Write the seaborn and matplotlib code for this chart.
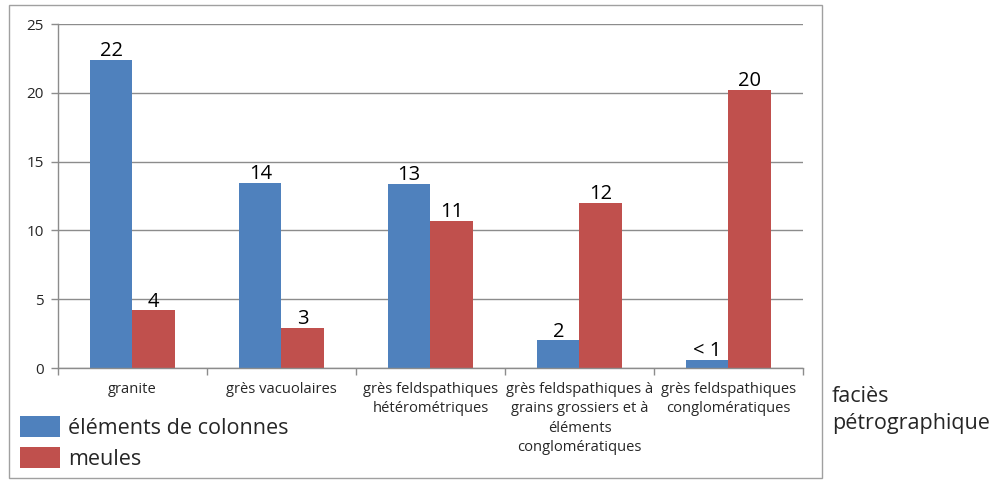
import matplotlib
matplotlib.use("Agg")
import matplotlib.pyplot as plt
import seaborn as sns
import pandas as pd
import numpy as np
from matplotlib.patches import Rectangle, Patch

categories = ["granite", "grès vacuolaires",
              "grès feldspathiques\nhétérométriques",
              "grès feldspathiques à\ngrains grossiers et à\néléments\nconglomératiques",
              "grès feldspathiques\nconglomératiques"]
colonnes = [22.4, 13.45, 13.4, 2.0, 0.6]
meules = [4.2, 2.9, 10.7, 12.0, 20.2]
labels_colonnes = ["22", "14", "13", "2", "< 1"]
labels_meules = ["4", "3", "11", "12", "20"]
series_names = ["éléments de colonnes", "meules"]
yticks = [0, 5, 10, 15, 20, 25]

df = pd.DataFrame({
    "cat": categories * 2,
    "val": colonnes + meules,
    "serie": [series_names[0]] * 5 + [series_names[1]] * 5,
})

sns.set_theme(style="white")
plt.rcParams['font.family'] = ['Open Sans', 'DejaVu Sans']

blue = "#4F81BD"
red = "#C0504D"
grid = "#8c8c8c"

fig = plt.figure(figsize=(9.95, 4.82), dpi=100)
ax = fig.add_axes([58/995, 1-368/482, (803-58)/995, (368-24)/482])

sns.barplot(data=df, x="cat", y="val", hue="serie", order=categories,
            hue_order=series_names, palette=[blue, red], width=0.57,
            saturation=1, ax=ax, legend=False)

for cont, labs in zip(ax.containers, [labels_colonnes, labels_meules]):
    for bar in cont:
        bar.set_edgecolor("none")
    ax.bar_label(cont, labels=labs, fontsize=14.5, padding=-1, color="black")

ax.set_ylim(0, 25)
ax.set_xlim(-0.5, 4.5)
ax.set_yticks(yticks)
ax.set_yticklabels([str(t) for t in yticks], fontsize=11)
ax.yaxis.grid(True, color=grid, linewidth=1)
ax.set_axisbelow(True)
ax.set_xlabel("")
ax.set_ylabel("")
ax.set_xticks(range(5))
ax.set_xticklabels(categories, fontsize=10.6, linespacing=1.4, va="top")
ax.set_xticks(np.arange(-0.5, 5.0, 1.0), minor=True)
ax.tick_params(axis="x", which="major", length=0, pad=10)
ax.tick_params(axis="x", which="minor", length=5, color=grid, width=1, direction="out", bottom=True)
ax.tick_params(axis="y", length=5, color=grid, width=1, direction="out", left=True, pad=5)
for s in ["top", "right"]:
    ax.spines[s].set_visible(False)
for s in ["left", "bottom"]:
    ax.spines[s].set_color(grid)
    ax.spines[s].set_linewidth(1)

# outer frame
fig.patches.append(Rectangle((9/995, 1-478/482), (822-9)/995, (478-5)/482,
                             transform=fig.transFigure, fill=False,
                             edgecolor="#a0a0a0", linewidth=1))

handles = [Patch(facecolor=blue, edgecolor="none"), Patch(facecolor=red, edgecolor="none")]
fig.legend(handles, series_names, loc="lower left", bbox_to_anchor=(20/995, 1-470/482),
           frameon=False, fontsize=15.5, handlelength=1.86, handleheight=1.1,
           handletextpad=0.37, labelspacing=0.39, borderaxespad=0, borderpad=0)

fig.text(832/995, 1-386/482, "faciès\npétrographique", fontsize=15.5,
         ha="left", va="top", linespacing=1.4)

fig.savefig("out.png", dpi=100)
